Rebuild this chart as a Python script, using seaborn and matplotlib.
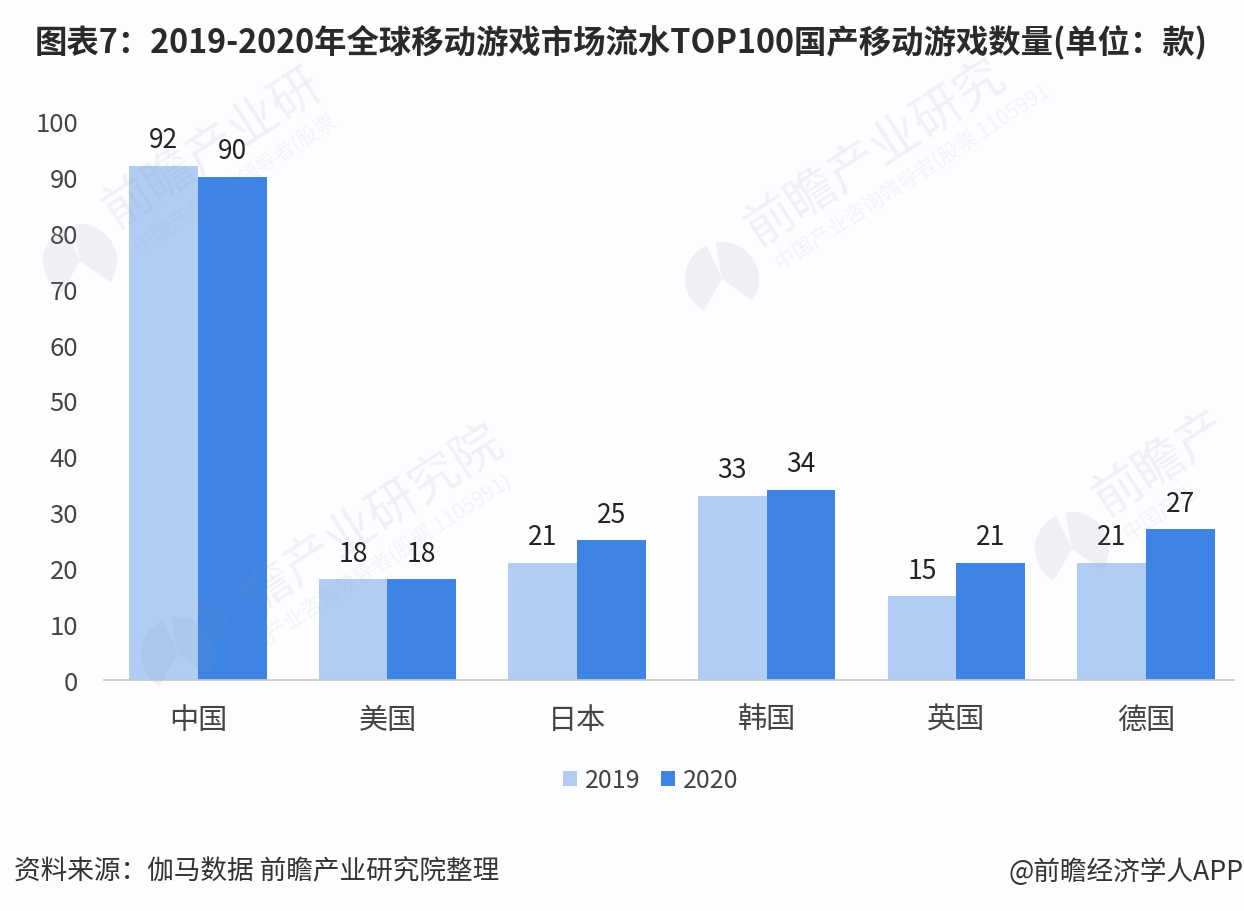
import matplotlib
matplotlib.use('Agg')
import matplotlib.pyplot as plt
from matplotlib.patches import Wedge
from matplotlib.transforms import IdentityTransform
import seaborn as sns
import pandas as pd

countries = ['中国', '美国', '日本', '韩国', '英国', '德国']
values_2019 = [92, 18, 21, 33, 15, 21]
values_2020 = [90, 18, 25, 34, 21, 27]
yticks = list(range(0, 101, 10))

W, H = 1244, 912

sns.set_theme(style='white')
plt.rcParams['font.family'] = ['Noto Sans CJK SC', 'DejaVu Sans']

df = pd.DataFrame({'国家': countries * 2,
                   '年份': ['2019'] * 6 + ['2020'] * 6,
                   '数量': values_2019 + values_2020})

fig = plt.figure(figsize=(W / 100, H / 100), dpi=100, facecolor='#fdfdff')
ax = fig.add_axes([104 / W, 1 - 681 / H, (1234 - 104) / W, (681 - 122) / H])
ax.set_facecolor('#fdfdff')

sns.barplot(data=df, x='国家', y='数量', hue='年份', ax=ax, width=0.725, saturation=1,
            palette=['#b2cdf3', '#3d84e4'], linewidth=0, edgecolor='none')

for c in ax.containers:
    ax.bar_label(c, padding=9, fontsize=19, color='#222222')

ax.set_ylim(0, 100)
ax.set_xlim(-0.495, 5.465)
ax.set_yticks(yticks)
ax.set_xlabel('')
ax.set_ylabel('')
ax.tick_params(axis='y', length=0, labelsize=18.5, labelcolor='#444444', pad=18.6)
ax.tick_params(axis='x', length=0, labelsize=21, labelcolor='#444444', pad=18)
for s in ['top', 'right', 'left']:
    ax.spines[s].set_visible(False)
ax.spines['bottom'].set_color('#c8c8c8')

ax.legend(loc='center', bbox_to_anchor=(650.5 / W, 1 - 781 / H), bbox_transform=fig.transFigure,
          ncol=2, frameon=False, fontsize=18, labelcolor='#444444', handlelength=0.56, handleheight=0.56,
          handletextpad=0.32, columnspacing=0.84)

fig.text(35 / W, 1 - 42 / H, '图表7：2019-2020年全球移动游戏市场流水TOP100国产移动游戏数量(单位：款)',
         fontsize=23.3, fontweight='bold', color='#2a2a2a', va='center', ha='left')
fig.text(14 / W, 1 - 872 / H, '资料来源：伽马数据 前瞻产业研究院整理',
         fontsize=19.2, color='#333333', va='center', ha='left')
fig.text(1243 / W, 1 - 872 / H, '@前瞻经济学人APP',
         fontsize=19.2, color='#333333', va='center', ha='right')

# watermarks, faint and laid over the bars
for lx, ly, tx, ty, big, small in [
        (80, 262, 115, 228, '前瞻产业研', '中国产业咨询领导者(股票'),
        (722, 280, 757, 246, '前瞻产业研究', '中国产业咨询领导者(股票 1105991'),
        (178, 655, 213, 640, '前瞻产业研究院', '中国产业咨询领导者(股票 1105991)'),
        (1072, 550, 1105, 516, '前瞻产', '中国产业')]:
    for t1, t2 in [(55, 190), (205, 330)]:
        fig.add_artist(Wedge((lx, H - ly), 37, t1 - 90, t2 - 90, transform=IdentityTransform(),
                             facecolor='#7f8fb5', alpha=0.11, linewidth=0, zorder=5))
    fig.text(tx / W, 1 - ty / H, big, fontsize=36, color='#7f8fb5', alpha=0.11,
             rotation=33, rotation_mode='anchor', ha='left', va='baseline', zorder=5)
    fig.text((tx + 24) / W, 1 - (ty + 24) / H, small, fontsize=15,
             color='#7f8fb5', alpha=0.09, rotation=33, rotation_mode='anchor',
             ha='left', va='baseline', zorder=5)

plt.savefig('out.png', dpi=100, facecolor=fig.get_facecolor())
